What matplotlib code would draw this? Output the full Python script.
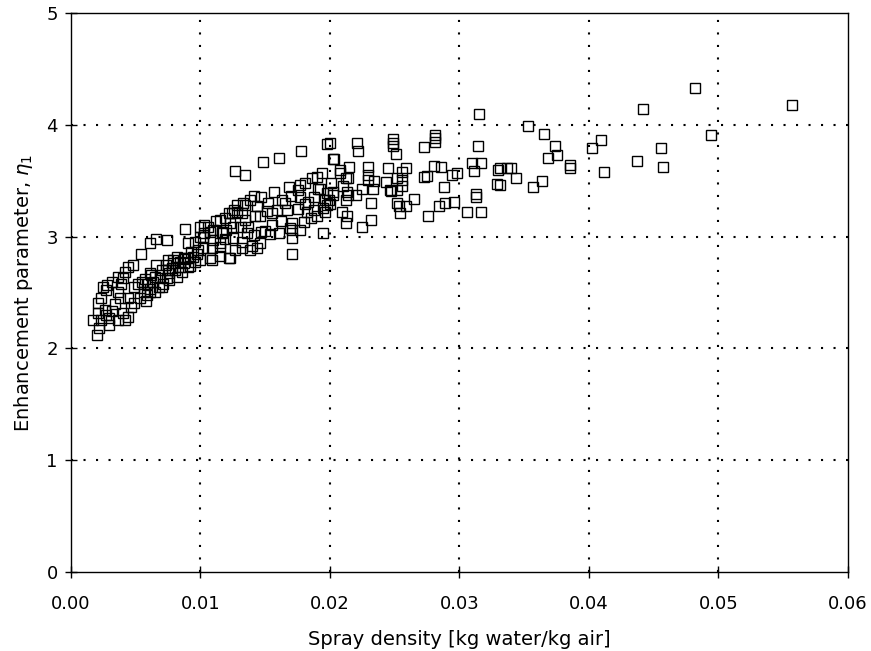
import numpy as np
import matplotlib
matplotlib.use("Agg")
import matplotlib.pyplot as plt

# (spray density [kg water/kg air], enhancement parameter eta_1) pairs
group_a = [
    (0.0020, 2.12), (0.0022, 2.18), (0.0017, 2.25), (0.0023, 2.25), (0.0029, 2.21),
    (0.0029, 2.27), (0.0036, 2.25), (0.0042, 2.25), (0.0044, 2.28), (0.0040, 2.32),
    (0.0021, 2.32), (0.0021, 2.41), (0.0026, 2.34), (0.0027, 2.30), (0.0023, 2.45),
    (0.0027, 2.52), (0.0032, 2.59), (0.0036, 2.64), (0.0042, 2.68), (0.0044, 2.73),
    (0.0048, 2.75), (0.0036, 2.50), (0.0044, 2.45), (0.0046, 2.37), (0.0049, 2.41),
    (0.0049, 2.55), (0.0025, 2.55), (0.0028, 2.57), (0.0040, 2.63), (0.0039, 2.58),
    (0.0032, 2.33), (0.0034, 2.40), (0.0038, 2.45),
]
group_b = [
    (0.0052, 2.58), (0.0055, 2.59), (0.0054, 2.84), (0.0059, 2.58), (0.0063, 2.59),
    (0.0065, 2.64), (0.0066, 2.75), (0.0073, 2.75), (0.0076, 2.67), (0.0074, 2.63),
    (0.0071, 2.58), (0.0056, 2.50), (0.0061, 2.53), (0.0065, 2.50), (0.0059, 2.48),
    (0.0070, 2.70), (0.0075, 2.79), (0.0061, 2.94), (0.0066, 2.98), (0.0074, 2.97),
    (0.0088, 3.07), (0.0084, 2.77), (0.0090, 2.81), (0.0094, 2.82), (0.0096, 2.77),
    (0.0090, 2.73), (0.0084, 2.73), (0.0075, 2.70), (0.0090, 2.94), (0.0096, 2.95),
    (0.0082, 2.82), (0.0079, 2.76), (0.0086, 2.68), (0.0082, 2.64), (0.0076, 2.61),
    (0.0053, 2.45), (0.0058, 2.42), (0.0068, 2.55), (0.0080, 2.70), (0.0088, 2.80),
    (0.0093, 2.86), (0.0098, 2.88), (0.0057, 2.62), (0.0062, 2.66), (0.0069, 2.63),
    (0.0078, 2.72), (0.0087, 2.76), (0.0092, 2.74), (0.0097, 2.84), (0.0061, 2.67),
    (0.0079, 2.79), (0.0087, 2.81), (0.0070, 2.55), (0.0061, 2.50),
]
group_c = [
    (0.0100, 3.00), (0.0103, 3.03), (0.0103, 3.10), (0.0106, 3.09), (0.0112, 3.14),
    (0.0119, 3.17), (0.0122, 3.21), (0.0126, 3.24), (0.0128, 3.28), (0.0133, 3.30),
    (0.0138, 3.33), (0.0100, 2.79), (0.0107, 2.81), (0.0109, 2.90), (0.0115, 2.91),
    (0.0122, 2.81), (0.0102, 3.00), (0.0107, 3.04), (0.0117, 3.03), (0.0120, 3.06),
    (0.0125, 3.09), (0.0198, 3.83), (0.0178, 3.77), (0.0161, 3.70), (0.0148, 3.67),
    (0.0127, 3.59), (0.0134, 3.55), (0.0202, 3.69), (0.0190, 3.53), (0.0186, 3.52),
    (0.0181, 3.48), (0.0177, 3.46), (0.0168, 3.44), (0.0175, 3.42), (0.0157, 3.40),
    (0.0141, 3.36), (0.0147, 3.35), (0.0191, 3.43), (0.0198, 3.39), (0.0177, 3.35),
    (0.0183, 3.31), (0.0165, 3.30), (0.0159, 3.24), (0.0128, 3.22), (0.0124, 3.21),
    (0.0142, 3.18), (0.0146, 3.18), (0.0155, 3.21), (0.0151, 3.23), (0.0167, 3.24),
    (0.0175, 3.25), (0.0182, 3.22), (0.0188, 3.24), (0.0195, 3.26), (0.0181, 3.29),
    (0.0188, 3.35), (0.0199, 3.33), (0.0201, 3.48), (0.0190, 3.18), (0.0195, 3.03),
    (0.0171, 2.84), (0.0154, 3.02), (0.0161, 3.03), (0.0169, 3.08), (0.0177, 3.06),
    (0.0155, 3.10), (0.0171, 3.12), (0.0134, 3.15), (0.0131, 3.09), (0.0137, 3.09),
    (0.0123, 3.12), (0.0115, 3.15), (0.0110, 3.06), (0.0117, 3.04), (0.0100, 3.09),
    (0.0110, 2.97), (0.0115, 2.94), (0.0125, 2.99), (0.0132, 2.95), (0.0132, 2.90),
    (0.0140, 2.92), (0.0146, 2.94), (0.0123, 2.81), (0.0109, 2.79), (0.0115, 2.83),
    (0.0102, 2.90), (0.0141, 3.01), (0.0147, 3.04), (0.0134, 3.28), (0.0132, 3.21),
    (0.0144, 3.27), (0.0152, 3.30), (0.0163, 3.33), (0.0170, 3.36), (0.0185, 3.17),
    (0.0171, 2.99), (0.0171, 3.06), (0.0144, 2.90), (0.0138, 2.88), (0.0127, 2.88),
    (0.0194, 3.57), (0.0192, 3.43), (0.0196, 3.33), (0.0198, 3.28), (0.0196, 3.22),
    (0.0162, 3.14), (0.0180, 3.13), (0.0150, 3.05), (0.0119, 2.98), (0.0136, 3.03),
]
group_d = [
    (0.0221, 3.84), (0.0222, 3.77), (0.0200, 3.84), (0.0203, 3.69), (0.0208, 3.60),
    (0.0215, 3.62), (0.0208, 3.57), (0.0212, 3.52), (0.0214, 3.52), (0.0229, 3.62),
    (0.0229, 3.55), (0.0229, 3.51), (0.0234, 3.50), (0.0225, 3.43), (0.0233, 3.43),
    (0.0245, 3.61), (0.0259, 3.61), (0.0256, 3.58), (0.0243, 3.49), (0.0252, 3.52),
    (0.0256, 3.51), (0.0256, 3.45), (0.0247, 3.41), (0.0249, 3.87), (0.0249, 3.84),
    (0.0249, 3.81), (0.0251, 3.74), (0.0273, 3.80), (0.0281, 3.91), (0.0281, 3.88),
    (0.0281, 3.85), (0.0273, 3.53), (0.0275, 3.54), (0.0280, 3.63), (0.0286, 3.62),
    (0.0288, 3.44), (0.0294, 3.55), (0.0298, 3.57), (0.0265, 3.34), (0.0259, 3.27),
    (0.0253, 3.27), (0.0254, 3.21), (0.0284, 3.27), (0.0289, 3.30), (0.0296, 3.31),
    (0.0276, 3.18), (0.0232, 3.30), (0.0202, 3.37), (0.0200, 3.29), (0.0209, 3.22),
    (0.0213, 3.18), (0.0212, 3.12), (0.0220, 3.37), (0.0225, 3.09), (0.0232, 3.15),
    (0.0210, 3.45), (0.0213, 3.40), (0.0212, 3.33), (0.0214, 3.37), (0.0202, 3.40),
    (0.0246, 3.42), (0.0252, 3.42), (0.0252, 3.30),
]
group_e = [
    (0.0310, 3.66), (0.0317, 3.66), (0.0311, 3.59), (0.0314, 3.81), (0.0315, 4.10),
    (0.0330, 3.60), (0.0329, 3.47), (0.0337, 3.61), (0.0313, 3.38), (0.0313, 3.35),
    (0.0306, 3.22), (0.0317, 3.22), (0.0331, 3.61), (0.0340, 3.61), (0.0344, 3.52),
    (0.0331, 3.46), (0.0353, 3.99), (0.0365, 3.92), (0.0374, 3.81), (0.0375, 3.73),
    (0.0368, 3.70), (0.0385, 3.64), (0.0385, 3.61), (0.0364, 3.50), (0.0357, 3.44),
    (0.0409, 3.86), (0.0402, 3.79), (0.0412, 3.58), (0.0437, 3.68), (0.0442, 4.14),
    (0.0456, 3.79), (0.0457, 3.62), (0.0482, 4.33), (0.0494, 3.91), (0.0557, 4.18),
]

x_ticks = [0.00, 0.01, 0.02, 0.03, 0.04, 0.05, 0.06]
x_tick_labels = ["0.00", "0.01", "0.02", "0.03", "0.04", "0.05", "0.06"]
y_ticks = [0, 1, 2, 3, 4, 5]
x_label = "Spray density [kg water/kg air]"
y_label = r"Enhancement parameter, $\eta_1$"

data = np.array(group_a + group_b + group_c + group_d + group_e)

fig = plt.figure(figsize=(8.71, 6.51), dpi=100)
ax = fig.add_axes([0.0815, 0.1214, 0.892, 0.8586])

ax.plot(data[:, 0], data[:, 1], linestyle="none", marker="s", markersize=6.6,
        markerfacecolor="none", markeredgecolor="black", markeredgewidth=1.0, zorder=3)

ax.set_xlim(0, 0.06)
ax.set_ylim(0, 5)
ax.set_xticks(x_ticks)
ax.set_xticklabels(x_tick_labels)
ax.set_yticks(y_ticks)

for xv in x_ticks[1:-1]:
    ax.axvline(xv, color="black", linestyle=(0, (1, 5)), linewidth=1.5, zorder=1)
for yv in y_ticks[1:-1]:
    ax.axhline(yv, color="black", linestyle=(0, (1, 5)), linewidth=1.5, zorder=1)

for s in ax.spines.values():
    s.set_linewidth(1.0)
ax.tick_params(direction="inout", length=9, width=1.0, labelsize=13)
ax.tick_params(axis="x", pad=12)
ax.tick_params(axis="y", pad=5)

ax.set_xlabel(x_label, fontsize=14, labelpad=12)
ax.set_ylabel(y_label, fontsize=14, labelpad=8)

fig.savefig("out.png", dpi=100)
